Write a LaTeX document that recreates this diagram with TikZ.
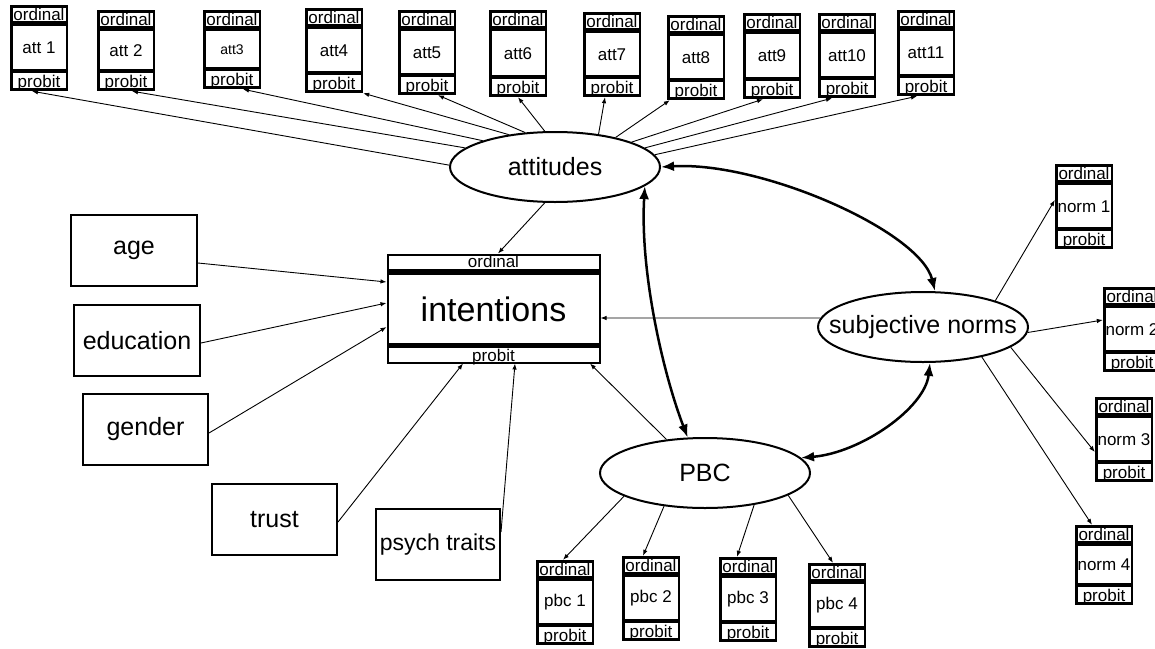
\documentclass[tikz,border=0pt]{standalone}
\usepackage{fontspec}
\setmainfont{Liberation Sans}
\usetikzlibrary{shapes.geometric,arrows.meta}
\tikzset{
  indbox/.style={rectangle, fill=black, draw=none, inner sep=0pt, minimum width=58pt},
  stripfont/.style={font=\fontsize{17}{17}\selectfont, inner sep=0pt},
  indfont/.style={font=\fontsize{17}{17}\selectfont, inner sep=0pt},
  exbox/.style={rectangle, draw=black, line width=2pt, inner sep=0pt, font=\fontsize{25}{25}\selectfont},
  latent/.style={ellipse, draw=black, line width=2pt, minimum width=210pt, minimum height=70pt, inner sep=0pt},
  latfont/.style={font=\fontsize{25}{25}\selectfont, inner sep=0pt},
  arr/.style={-{Latex[length=6pt,width=4.5pt]}, line width=0.9pt},
  biarr/.style={{Latex[length=13pt,width=10pt]}-{Latex[length=13pt,width=10pt]}, line width=2.5pt},
}
\newcommand{\IndBox}[5]{%
  \node[indbox, minimum height={(#4)-(#3)}] (#1) at (#2,{((#3)+(#4))/2}) {};
  \fill[white] ({#2-26.5},{#3+3}) rectangle ({#2+26.5},{#3+16});
  \fill[white] ({#2-26.5},{#3+21}) rectangle ({#2+26.5},{#4-22});
  \fill[white] ({#2-26.5},{#4-18}) rectangle ({#2+26.5},{#4-3});
  \node[stripfont, anchor=base] (#1-o) at (#2,{#3+15.5}) {ordinal};
  \node[stripfont, anchor=base] (#1-p) at (#2,{#4-4}) {probit};
  \node[indfont] (#1-t) at (#2,{((#3)+(#4))/2}) {#5};
}
\begin{document}
\begin{tikzpicture}[x=1pt,y=-1pt]
\useasboundingbox (0,0) rectangle (1155,648);
\fill[white] (0,0) rectangle (1155,648);

% attitude indicators
\IndBox{att1}{39}{5}{91}{att 1}
\IndBox{att2}{126}{10}{91}{att 2}
\IndBox{att3}{232}{10}{89}{\fontsize{14}{14}\selectfont att3}
\IndBox{att4}{334}{8}{93}{att4}
\IndBox{att5}{427}{10}{95}{att5}
\IndBox{att6}{518}{10}{97}{att6}
\IndBox{att7}{612}{12}{97}{att7}
\IndBox{att8}{696}{15}{100}{att8}
\IndBox{att9}{772}{13}{99}{att9}
\IndBox{att10}{847}{13}{98}{att10}
\IndBox{att11}{926}{10}{96}{att11}

% norm indicators
\IndBox{norm1}{1084}{164}{249}{norm 1}
\IndBox{norm2}{1132}{287}{372}{norm 2}
\IndBox{norm3}{1124}{397}{482}{norm 3}
\IndBox{norm4}{1104}{525}{605}{norm 4}

% pbc indicators
\IndBox{pbc1}{565}{560}{645}{pbc 1}
\IndBox{pbc2}{651}{556}{641}{pbc 2}
\IndBox{pbc3}{748}{557}{642}{pbc 3}
\IndBox{pbc4}{837}{563}{648}{pbc 4}

% intentions
\node[draw, line width=2pt, minimum width=212pt, minimum height=108pt, inner sep=0pt] (int) at (493.5,308.5) {};
\fill (388,269) rectangle (599,274.5);
\fill (388,342.5) rectangle (599,347.5);
\node[stripfont, anchor=base] (int-o) at (493.5,267.5) {ordinal};
\node[font=\fontsize{34}{34}\selectfont, inner sep=0pt, anchor=base] (int-t) at (493.5,321) {intentions};
\node[stripfont, anchor=base] (int-p) at (493.5,361) {probit};

% exogenous boxes
\node[exbox, minimum width=126pt, minimum height=71pt] (age) at (134,250.5) {age};
\node[exbox, minimum width=126pt, minimum height=71pt] (edu) at (137,340.5) {education};
\node[exbox, minimum width=125pt, minimum height=71pt] (gen) at (145.5,429.5) {gender};
\node[exbox, minimum width=125pt, minimum height=71pt] (tru) at (274.5,519.5) {trust};
\node[exbox, minimum width=124pt, minimum height=71pt, font=\fontsize{23}{23}\selectfont] (psy) at (438,544.5) {psych traits};

% latent variables
\node[latent] (att) at (555,167) {};
\node[latfont] (att-t) at (555,167) {attitudes};
\node[latent] (snorms) at (923,327) {};
\node[latfont] (snorms-t) at (923,327) {subjective norms};
\node[latent] (pbc) at (705,473) {};
\node[latfont] (pbc-t) at (705,473) {PBC};

% attitudes -> indicators
\draw[arr] (att.179) -- ([xshift=-7pt]att1.south);
\draw[arr] (att.168) -- ([xshift=6pt]att2.south);
\draw[arr] (att.160) -- ([xshift=11pt]att3.south);
\draw[arr] (att.145) -- (att4.south east);
\draw[arr] (att.131) -- ([xshift=11pt]att5.south);
\draw[arr] (att.106) -- (att6.south);
\draw[arr] (att.37) -- ([xshift=-7pt]att7.south);
\draw[arr] (att.26) -- ([xshift=3pt]att8.south west);
\draw[arr] (att.18) -- ([xshift=-9pt]att9.south);
\draw[arr] (att.12.6) -- ([xshift=-15pt]att10.south);
\draw[arr] (att.7) -- ([xshift=-9pt]att11.south);

% subjective norms -> indicators
\draw[arr] (snorms.20) -- ([yshift=6.5pt]norm1.west);
\draw[arr] (snorms.-3) -- ([yshift=9.5pt]norm2.west);
\draw[arr] (snorms.-13) -- ([yshift=-12.5pt]norm3.west);
\draw[arr] (snorms.-27) -- ([xshift=-12pt]norm4.north);

% PBC -> indicators
\draw[arr] (pbc.196) -- ([xshift=-2pt]pbc1.north);
\draw[arr] (pbc.219) -- ([xshift=-8pt]pbc2.north);
\draw[arr] (pbc.327) -- ([xshift=-11pt]pbc3.north);
\draw[arr] (pbc.345) -- ([xshift=-4pt]pbc4.north);

% paths into intentions
\draw[arr] (att.254) -- ([xshift=4.5pt]int.north);
\draw[arr] ([yshift=-12.5pt]age.east) -- ([yshift=26.5pt]int.west);
\draw[arr] ([yshift=-2.5pt]edu.east) -- ([yshift=5.5pt]int.west);
\draw[arr] ([yshift=-3.5pt]gen.east) -- ([yshift=-18.5pt]int.west);
\draw[arr] ([yshift=-2.5pt]tru.east) -- ([xshift=-30.5pt]int.south);
\draw[arr] ([yshift=12.5pt]psy.east) -- ([xshift=21.5pt]int.south);
\draw[arr] (pbc.139) -- ([xshift=96.5pt]int.south);
\draw[arr] (snorms.175) -- ([yshift=-9.5pt]int.east);

% correlations between latent variables
\draw[biarr] (att.east) .. controls +(100,-6) and +(-15,-60) .. ([xshift=12pt]snorms.north);
\draw[biarr] (att.-12) .. controls +(-5,85) and +(-25,-65) .. (pbc.116);
\draw[biarr] (snorms.-79) .. controls +(-5,45) and +(60,-5) .. (pbc.9);
\end{tikzpicture}
\end{document}
